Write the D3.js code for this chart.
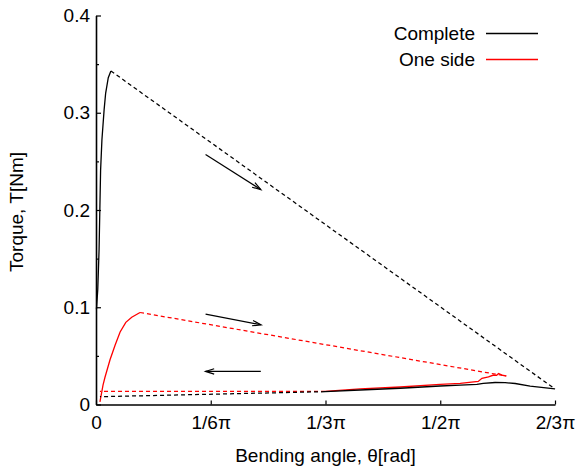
<!DOCTYPE html>
<html>
<head>
<meta charset="utf-8">
<script src="https://cdn.jsdelivr.net/npm/d3@7"></script>
<style>
  html, body { margin: 0; padding: 0; background: #fff; }
  svg { display: block; }
  text { font-family: "Liberation Sans", Arial, Helvetica, sans-serif; fill: #000; }
</style>
</head>
<body>
<svg id="chart" width="576" height="470"></svg>
<script>
// Bending angle (rad) vs torque (Nm)
const xTickValues = [0, Math.PI / 6, Math.PI / 3, Math.PI / 2, 2 * Math.PI / 3];
const xTickLabels = ["0", "1/6\u03C0", "1/3\u03C0", "1/2\u03C0", "2/3\u03C0"];
const yTickValues = [0, 0.1, 0.2, 0.3, 0.4];
const yTickLabels = ["0", "0.1", "0.2", "0.3", "0.4"];
const yMinorTicks = [0.05, 0.15, 0.25, 0.35];

// Complete specimen: loading branch, unloading branch, final resting point
const completeLoading = [
  [0.002, 0.098], [0.008, 0.118], [0.014, 0.159], [0.021, 0.241],
  [0.027, 0.272], [0.037, 0.303], [0.044, 0.320], [0.056, 0.336], [0.068, 0.343]
];
const completeUnloading = [
  [2.094, 0.016], [1.981, 0.019], [1.913, 0.0216], [1.867, 0.0224],
  [1.821, 0.0226], [1.767, 0.0218], [1.738, 0.0206], [1.662, 0.0200],
  [1.570, 0.0190], [1.388, 0.0167], [1.205, 0.0149], [1.045, 0.0132]
];
const completeRest = [0.018, 0.008];

// One side specimen
const oneSideLoading = [
  [0.018, 0.0026], [0.032, 0.020], [0.041, 0.028], [0.064, 0.046],
  [0.087, 0.061], [0.110, 0.0746], [0.136, 0.0845], [0.163, 0.0897], [0.201, 0.0946]
];
const oneSideUnloading = [
  [1.872, 0.0293], [1.852, 0.0303], [1.837, 0.0319], [1.828, 0.0300],
  [1.814, 0.0303], [1.791, 0.0283], [1.761, 0.0269], [1.744, 0.0237],
  [1.662, 0.0218], [1.570, 0.0206], [1.388, 0.0180], [1.205, 0.0160], [1.045, 0.0134]
];
const oneSideRest = [0.018, 0.0134];

// Direction arrows: [theta0, torque0, theta1, torque1]
const arrows = [
  [0.50, 0.257, 0.752, 0.221],
  [0.50, 0.093, 0.753, 0.082],
  [0.752, 0.034, 0.50, 0.034]
];

const seriesNames = ["Complete", "One side"];
const seriesColors = ["#000000", "#ff0000"];

const svg = d3.select("#chart");
const margin = { left: 96, top: 15.5, right: 21, bottom: 65.5 };
const W = 576 - margin.left - margin.right;
const H = 470 - margin.top - margin.bottom;

const x = d3.scaleLinear().domain([0, 2 * Math.PI / 3]).range([0, W]);
const y = d3.scaleLinear().domain([0, 0.4]).range([H, 0]);

const g = svg.append("g").attr("transform", `translate(${margin.left},${margin.top})`);

// Axes (ticks point inward)
g.append("g")
  .call(d3.axisLeft(y).tickValues(yTickValues)
    .tickFormat((d, i) => yTickLabels[i])
    .tickSize(-5).tickSizeOuter(0).tickPadding(6));
g.append("g")
  .call(d3.axisLeft(y).tickValues(yMinorTicks).tickFormat("")
    .tickSize(-3).tickSizeOuter(0))
  .select(".domain").remove();
g.append("g").attr("transform", `translate(0,${H})`)
  .call(d3.axisBottom(x).tickValues(xTickValues)
    .tickFormat((d, i) => xTickLabels[i])
    .tickSize(-4).tickSizeOuter(0).tickPadding(11));

g.selectAll(".domain").attr("stroke", "#000").attr("stroke-width", 1.6);
g.selectAll(".tick line").attr("stroke", "#000").attr("stroke-width", 1.2);
g.selectAll(".tick text").style("font-size", "19px")
  .style("font-family", "'Liberation Sans', Arial, sans-serif");

// Curves
const line = d3.line().x(d => x(d[0])).y(d => y(d[1]));

function drawSeries(loading, unloading, rest, color) {
  const solid = { fill: "none", stroke: color, "stroke-width": 1.3 };
  const dashed = { fill: "none", stroke: color, "stroke-width": 1.25, "stroke-dasharray": "4,3" };
  const pieces = [
    [loading, solid],
    [[loading[loading.length - 1], unloading[0]], dashed],
    [unloading, solid],
    [[unloading[unloading.length - 1], rest], dashed]
  ];
  pieces.forEach(([pts, st]) => {
    const p = g.append("path").attr("d", line(pts));
    Object.entries(st).forEach(([k, v]) => p.attr(k, v));
  });
}
drawSeries(oneSideLoading, oneSideUnloading, oneSideRest, seriesColors[1]);
drawSeries(completeLoading, completeUnloading, completeRest, seriesColors[0]);

// Arrows with open heads
arrows.forEach(a => {
  const x0 = x(a[0]), y0 = y(a[1]), x1 = x(a[2]), y1 = y(a[3]);
  const ang = Math.atan2(y1 - y0, x1 - x0);
  const len = 9, spread = 0.3;
  g.append("line").attr("x1", x0).attr("y1", y0).attr("x2", x1).attr("y2", y1)
    .attr("stroke", "#000").attr("stroke-width", 1.2);
  const head = [
    [x1 - len * Math.cos(ang - spread), y1 - len * Math.sin(ang - spread)],
    [x1, y1],
    [x1 - len * Math.cos(ang + spread), y1 - len * Math.sin(ang + spread)]
  ];
  g.append("path").attr("d", d3.line()(head))
    .attr("fill", "none").attr("stroke", "#000").attr("stroke-width", 1.2);
});

// Legend
const legend = svg.append("g");
seriesNames.forEach((name, i) => {
  const ly = 33.5 + i * 26;
  legend.append("text").attr("x", 475).attr("y", ly + 6.5)
    .attr("text-anchor", "end").style("font-size", "19px").text(name);
  legend.append("line").attr("x1", 486).attr("x2", 538).attr("y1", ly).attr("y2", ly)
    .attr("stroke", seriesColors[i]).attr("stroke-width", 1.3);
});

// Axis titles
svg.append("text").attr("x", margin.left + W / 2).attr("y", 462)
  .attr("text-anchor", "middle").style("font-size", "19px")
  .text("Bending angle, \u03B8[rad]");
svg.append("text")
  .attr("transform", `translate(23,212) rotate(-90)`)
  .attr("text-anchor", "middle").style("font-size", "19px")
  .text("Torque, T[Nm]");
</script>
</body>
</html>
